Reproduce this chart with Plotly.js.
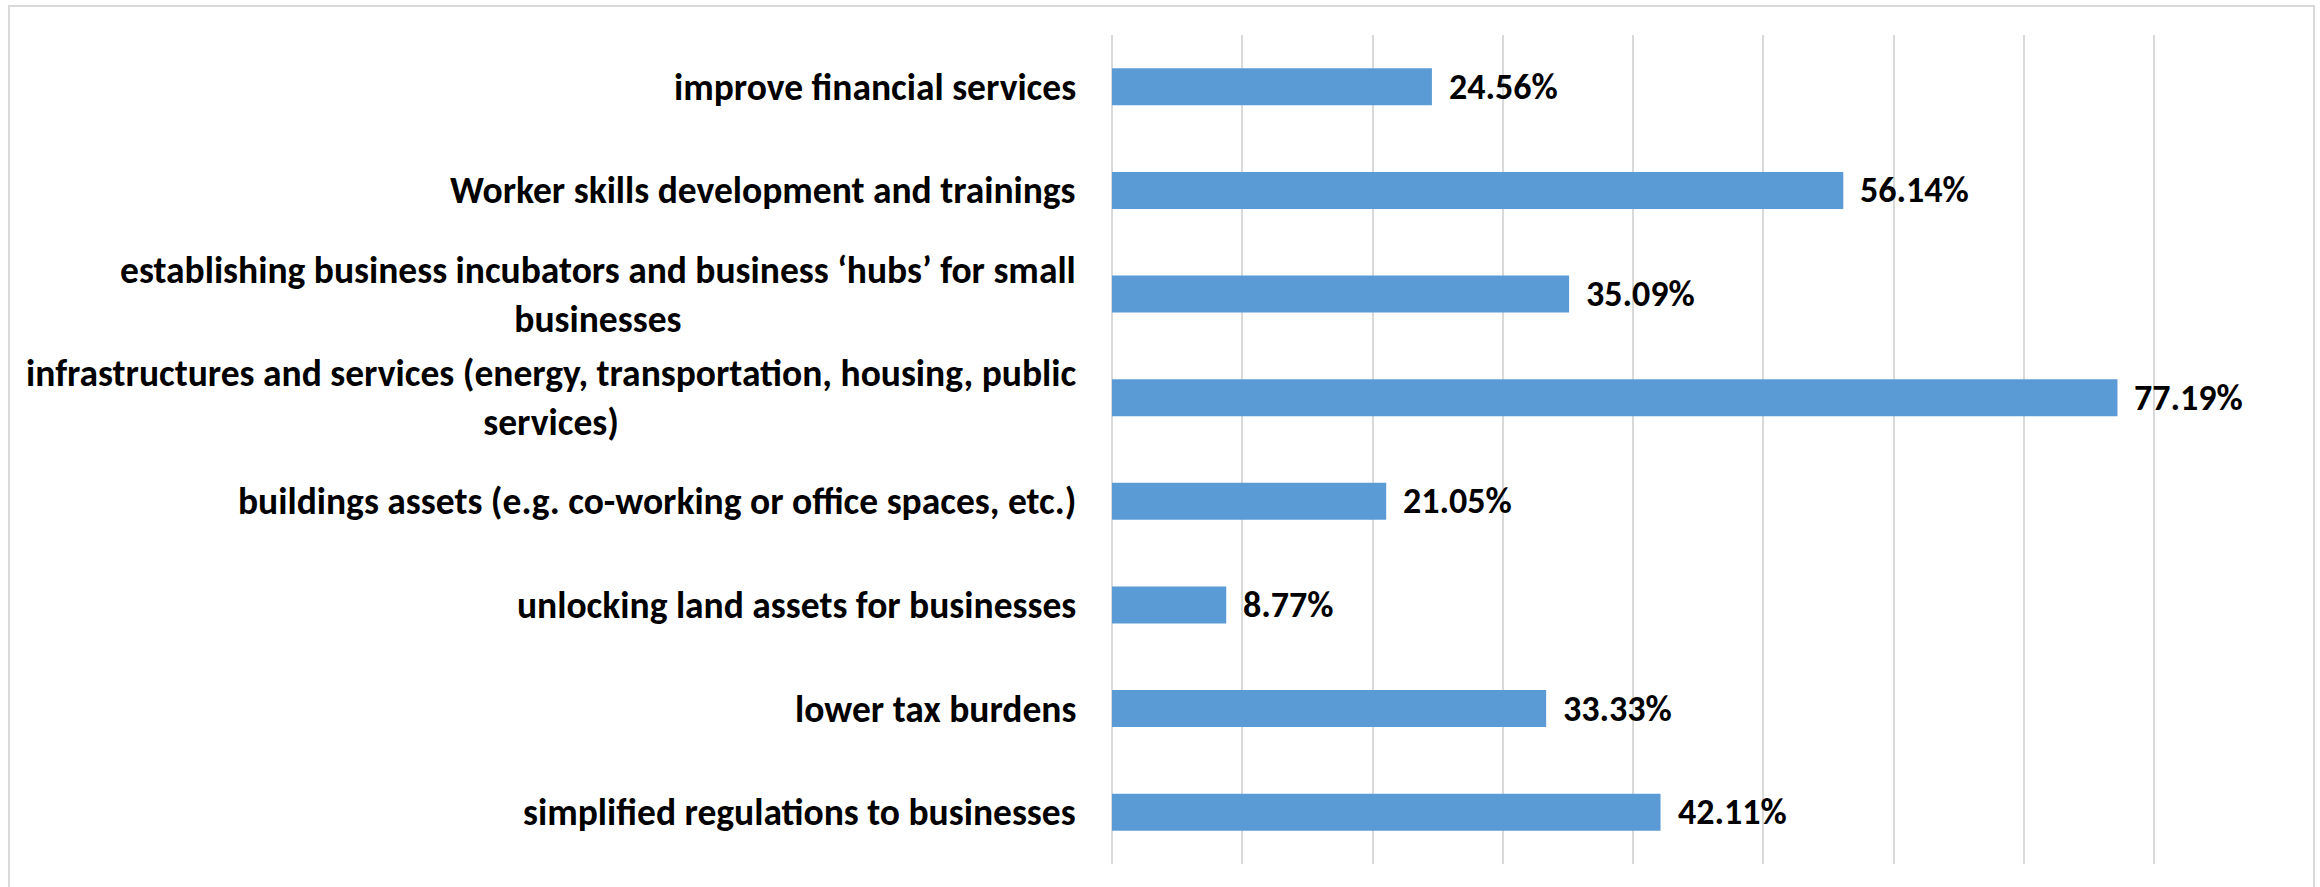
<!DOCTYPE html>
<html>
<head>
<meta charset="utf-8">
<script src="https://cdn.plot.ly/plotly-3.0.1.min.js"></script>
<style>
  html, body { margin:0; padding:0; background:#fff; }
  #chart { width:2320px; height:887px; }
</style>
</head>
<body>
<div id="chart"></div>
<script>
// categories top to bottom, with line breaks as in the original chart
var categories = [
  "improve financial services",
  "Worker skills development and trainings",
  "establishing business incubators and business \u2018hubs\u2019 for small<br>businesses",
  "infrastructures and services (energy, transportation, housing, public<br>services)",
  "buildings assets (e.g. co-working or office spaces, etc.)",
  "unlocking land assets for businesses",
  "lower tax burdens",
  "simplified regulations to businesses"
];
var shares = [0.2456, 0.5614, 0.3509, 0.7719, 0.2105, 0.0877, 0.3333, 0.4211];
var xTicks = [0, 0.1, 0.2, 0.3, 0.4, 0.5, 0.6, 0.7, 0.8, 0.9];

var W = 2320, H = 887;
var M = { l:1111.5, r:35, t:35, b:23 };
var FONT = "Carlito, Calibri, Lato, sans-serif";
var GRID = "#d9d9d9";

// pixel -> paper coords, for the outer frame only
function px(x) { return (x - M.l) / (W - M.l - M.r); }
function py(y) { return (H - M.b - y) / (H - M.t - M.b); }

var annotations = [];
categories.forEach(function(c, i) {
  annotations.push({
    xref:"paper", yref:"y", x:0, y:c, text:"<b>"+c+"</b>",
    xanchor:"right", yanchor:"middle", align:"center", xshift:-34, showarrow:false,
    font:{family:FONT, size:37.5, color:"#000"}
  });
  annotations.push({
    xref:"x", yref:"y", x:shares[i], y:c, text:"<b>"+(shares[i]*100).toFixed(2)+"%</b>",
    xanchor:"left", yanchor:"middle", xshift:15, showarrow:false,
    font:{family:FONT, size:36, color:"#000"}
  });
});

var trace = {
  type:"bar", orientation:"h", x:shares, y:categories,
  marker:{color:"#5b9bd5", line:{width:0}},
  hoverinfo:"none"
};

var layout = {
  width:W, height:H,
  margin:M,
  paper_bgcolor:"#fff", plot_bgcolor:"#fff",
  showlegend:false,
  bargap:0.643,
  xaxis:{
    range:[0, 0.9005], tickvals:xTicks, showticklabels:false, ticks:"",
    showgrid:true, gridcolor:GRID, gridwidth:2,
    zeroline:true, zerolinecolor:GRID, zerolinewidth:2, showline:false, fixedrange:true
  },
  yaxis:{
    type:"category", autorange:"reversed", showticklabels:false, ticks:"",
    showgrid:false, zeroline:false, showline:false, fixedrange:true
  },
  annotations:annotations,
  shapes:[{
    type:"rect", xref:"paper", yref:"paper",
    x0:px(8), x1:px(2314), y0:py(900), y1:py(6),
    line:{color:GRID, width:2}, fillcolor:"rgba(0,0,0,0)", layer:"below"
  }]
};

Plotly.newPlot("chart", [trace], layout, {displayModeBar:false, staticPlot:true});
</script>
</body>
</html>
